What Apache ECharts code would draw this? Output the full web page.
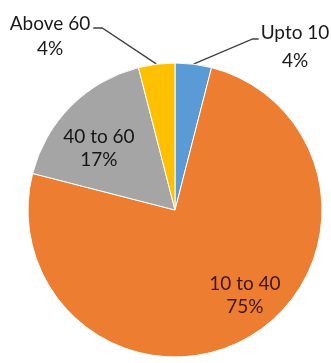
<!DOCTYPE html>
<html>
<head>
<meta charset="utf-8">
<script src="https://cdn.jsdelivr.net/npm/echarts@6/dist/echarts.min.js"></script>
<style>
  html, body { margin: 0; padding: 0; background: #fff; }
  #main { width: 331px; height: 363px; }
</style>
</head>
<body>
<div id="main"></div>
<script>
// slices, clockwise from 12 o'clock
var categories = ["Upto 10", "10 to 40", "40 to 60", "Above 60"];
var percents = [4, 75, 17, 4];
var colors = ["#5b9bd5", "#ed7d31", "#a5a5a5", "#ffc000"];

var pieData = [];
for (var i = 0; i < categories.length; i++) {
  pieData.push({
    name: categories[i],
    value: percents[i],
    itemStyle: { color: colors[i] }
  });
}
// outside labels (small slices)
pieData[0].label = { lineHeight: 28 };
pieData[3].label = { lineHeight: 25 };
// inside labels for the two big slices
pieData[1].label = { position: "inside", color: "#40160c", lineHeight: 23 };
pieData[2].label = { position: "inside", color: "#151515", lineHeight: 23 };
pieData[1].labelLine = { show: false };
pieData[2].labelLine = { show: false };

var myChart = echarts.init(document.getElementById("main"));
myChart.setOption({
  animation: false,
  series: [
    {
      type: "pie",
      center: [175, 210],
      radius: 147,
      startAngle: 90,
      clockwise: true,
      data: pieData,
      itemStyle: {
        borderColor: "#ffffff",
        borderWidth: 1
      },
      label: {
        show: true,
        position: "outside",
        formatter: "{b}\n{c}%",
        fontFamily: "Lato",
        fontSize: 19,
        color: "#1a1a1a",
        align: "center"
      },
      labelLine: {
        show: true,
        lineStyle: { color: "#404040", width: 1.3 }
      },
      labelLayout: function (params) {
        var w = params.labelRect.width;
        var p0 = params.labelLinePoints ? params.labelLinePoints[0] : null;
        if (params.dataIndex === 0) {
          var cx = 295, cy = 47;
          var lx = cx - w / 2;
          return {
            x: cx, y: cy, align: "center", verticalAlign: "middle",
            labelLinePoints: [p0, [lx - 8, 39], [lx - 2, 39]]
          };
        }
        if (params.dataIndex === 3) {
          var cx2 = 50, cy2 = 36;
          var rx = cx2 + w / 2;
          return {
            x: cx2, y: cy2, align: "center", verticalAlign: "middle",
            labelLinePoints: [p0, [rx + 12, 28], [rx + 3, 28]]
          };
        }
        if (params.dataIndex === 1) {
          return { dx: 31, dy: 20 };
        }
        if (params.dataIndex === 2) {
          return { dx: -22, dy: -8 };
        }
      }
    }
  ]
});
</script>
</body>
</html>
